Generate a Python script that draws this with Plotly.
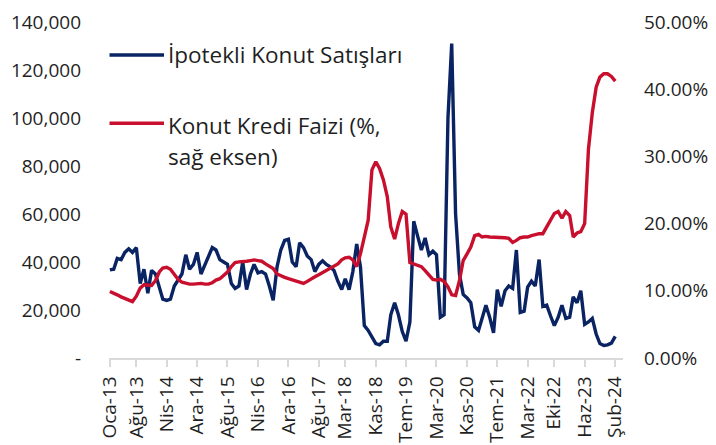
import pandas as pd
import plotly.graph_objects as go

# Monthly, Jan 2013 .. Feb 2024
months = pd.date_range("2013-01-01", periods=134, freq="MS")

# İpotekli konut satışları (adet)
mortgage_sales = [
    36700, 37000, 41500, 41000, 44000, 45500, 44000, 46000, 31000, 37000,
    27000, 36500, 35000, 29000, 24500, 24000, 24500, 30000, 32500, 35000,
    43000, 37000, 39000, 44000, 35000, 39000, 42000, 46000, 45000, 41000,
    40000, 39000, 31000, 29000, 30000, 40000, 28500, 35000, 39000, 35500,
    36000, 35000, 30000, 24000, 38000, 45000, 49000, 49500, 40000, 38000,
    48000, 46000, 42500, 41000, 36000, 39000, 40500, 39000, 38000, 36500,
    32000, 28500, 33000, 28500, 36000, 47500, 38000, 13500, 11500, 9000,
    6000, 5500, 7000, 7000, 18000, 23000, 18000, 11000, 7000, 15000,
    57000, 51000, 45000, 50000, 43000, 44500, 43000, 17000, 18000, 100000,
    131000, 60000, 35000, 26500, 25000, 23000, 13000, 11500, 17000, 22000,
    17000, 10500, 28500, 21500, 28000, 30000, 29000, 45000, 19000, 19500,
    29500, 32000, 30000, 41000, 21500, 22000, 17500, 13500, 17000, 22000,
    16500, 17000, 25500, 23000, 28000, 14000, 15000, 16500, 10000, 6000,
    5200, 5500, 6200, 9000,
]

# Konut kredi faizi (%)
mortgage_rate = [
    9.9, 9.7, 9.4, 9.1, 8.9, 8.6, 8.4, 9.2, 10.4, 10.9,
    10.8, 10.8, 11.5, 12.8, 13.4, 13.5, 13.2, 12.5, 11.7, 11.3,
    11.1, 11.0, 11.0, 11.1, 11.1, 11.0, 11.0, 11.2, 11.6, 11.8,
    12.3, 12.8, 13.6, 14.2, 14.3, 14.3, 14.4, 14.5, 14.6, 14.5,
    14.4, 14.0, 13.7, 13.3, 12.5, 12.2, 12.0, 11.8, 11.6, 11.4,
    11.2, 11.1, 11.4, 11.8, 12.1, 12.4, 12.7, 13.1, 13.4, 13.7,
    14.0, 14.6, 14.9, 15.0, 14.6, 13.6, 15.5, 18.0, 20.5, 28.0,
    29.2, 28.2, 26.5, 24.0, 19.5, 17.7, 20.0, 21.8, 21.4, 14.2,
    14.0, 13.9, 13.6, 13.0, 12.4, 11.7, 11.6, 11.7, 11.4, 10.6,
    9.4, 9.3, 11.5, 14.5, 15.5, 16.5, 18.2, 18.4, 18.0, 18.1,
    18.0, 18.0, 18.0, 18.0, 17.9, 17.8, 17.2, 17.5, 17.9, 18.0,
    18.0, 18.2, 18.4, 18.5, 18.5, 19.5, 20.7, 21.5, 21.8, 20.8,
    21.8, 21.2, 18.0, 18.6, 18.8, 20.0, 31.0, 36.5, 40.3, 41.8,
    42.3, 42.3, 41.9, 41.2,
]

tick_dates = ["2013-01-01", "2013-08-01", "2014-04-01", "2014-12-01", "2015-08-01",
              "2016-04-01", "2016-12-01", "2017-08-01", "2018-03-01", "2018-11-01",
              "2019-07-01", "2020-03-01", "2020-11-01", "2021-07-01", "2022-03-01",
              "2022-10-01", "2023-06-01", "2024-02-01"]
tick_labels = ["Oca-13", "Ağu-13", "Nis-14", "Ara-14", "Ağu-15", "Nis-16", "Ara-16",
               "Ağu-17", "Mar-18", "Kas-18", "Tem-19", "Mar-20", "Kas-20", "Tem-21",
               "Mar-22", "Eki-22", "Haz-23", "Şub-24"]

left_vals = [0, 20000, 40000, 60000, 80000, 100000, 120000, 140000]
left_text = ["-", "20,000", "40,000", "60,000", "80,000", "100,000", "120,000", "140,000"]
right_vals = [0, 10, 20, 30, 40, 50]
right_text = ["0.00%", "10.00%", "20.00%", "30.00%", "40.00%", "50.00%"]

series_names = ["İpotekli Konut Satışları", "Konut Kredi Faizi (%,", "sağ eksen)"]

BLUE = "#0A2463"
RED = "#C8102E"
TXT = "#1F1F1F"
FONT = "Open Sans"

fig = go.Figure()
fig.add_trace(go.Scatter(x=months, y=mortgage_sales, mode="lines",
                         line=dict(color=BLUE, width=3.4), name=series_names[0],
                         showlegend=False))
fig.add_trace(go.Scatter(x=months, y=mortgage_rate, mode="lines", yaxis="y2",
                         line=dict(color=RED, width=3.4),
                         name=series_names[1] + " " + series_names[2],
                         showlegend=False))

W, H = 716, 445
L, R, T, B = 109, 93, 22, 87
pw, ph = W - L - R, H - T - B


def px(x):
    return (x - L) / pw


def py(y):
    return (H - B - y) / ph


# legend (drawn manually to match spacing)
for yy, col in [(55, BLUE), (123.3, RED)]:
    fig.add_shape(type="line", xref="paper", yref="paper",
                  x0=px(109.5), x1=px(164), y0=py(yy), y1=py(yy),
                  line=dict(color=col, width=3.4))
for txt, yy in [(series_names[0], 55), (series_names[1], 125), (series_names[2], 156)]:
    fig.add_annotation(text=txt, xref="paper", yref="paper", x=px(166), y=py(yy),
                       xanchor="left", yanchor="middle", showarrow=False,
                       font=dict(family=FONT, size=22.5, color=TXT))

fig.update_layout(
    width=W, height=H,
    margin=dict(l=L, r=R, t=T, b=B, autoexpand=False),
    paper_bgcolor="white", plot_bgcolor="white",
    font=dict(family=FONT, size=19, color=TXT),
    xaxis=dict(
        type="date", automargin=False,
        range=["2012-12-25", "2024-04-03"],
        tickmode="array", tickvals=tick_dates, ticktext=tick_labels,
        tickangle=-90, showgrid=False, zeroline=False,
        showline=True, linecolor="#D9D9D9", linewidth=1.5,
        ticks="outside", ticklen=7, tickcolor="#D9D9D9", tickwidth=1.5,
        ticklabelstandoff=2,
        tickfont=dict(family=FONT, size=19, color=TXT),
    ),
    yaxis=dict(
        automargin=False,
        range=[0, 140000], tickmode="array", tickvals=left_vals, ticktext=left_text,
        showgrid=False, zeroline=False, showline=False, ticks="",
        ticklabelstandoff=27,
        tickfont=dict(family=FONT, size=19, color=TXT),
    ),
    yaxis2=dict(
        automargin=False,
        range=[0, 50], overlaying="y", side="right",
        tickmode="array", tickvals=right_vals, ticktext=right_text,
        showgrid=False, zeroline=False, showline=False, ticks="",
        ticklabelstandoff=20,
        tickfont=dict(family=FONT, size=19, color=TXT),
    ),
    showlegend=False,
)

fig.write_html(
    "out.html",
    config={"displayModeBar": False},
    post_script="document.body.style.margin='0';document.body.style.overflow='hidden';",
)
